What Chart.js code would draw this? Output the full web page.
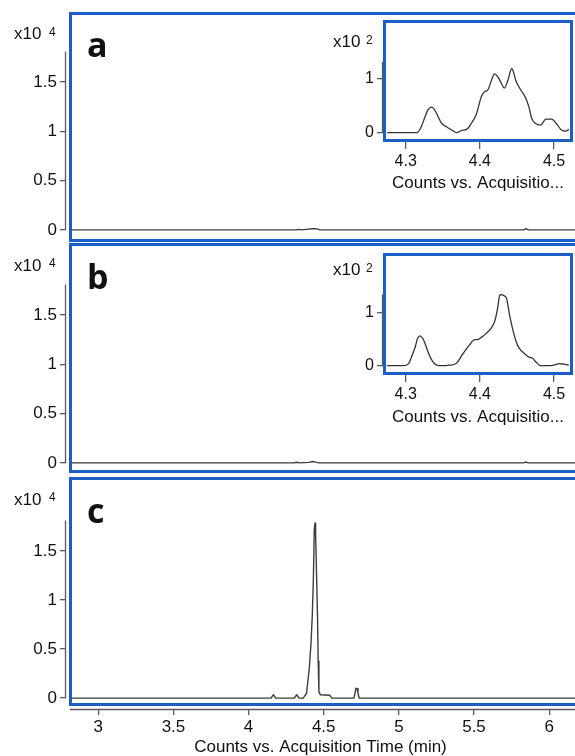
<!DOCTYPE html>
<html>
<head>
<meta charset="utf-8">
<script src="https://cdn.jsdelivr.net/npm/chart.js@4.4.1/dist/chart.umd.min.js"></script>
<style>
  body { margin: 0; background: #fff; }
  #wrap { position: relative; width: 575px; height: 756px; overflow: hidden; background: #fff; }
  canvas, .box { position: absolute; }
  .box { box-sizing: border-box; border: 3px solid #1b5ec6; }
  .inset { background: #fff; }
</style>
</head>
<body>
<div id="wrap">
  <canvas id="mainA" width="575" height="250" style="left:0;top:0"></canvas>
  <canvas id="mainB" width="575" height="250" style="left:0;top:231px"></canvas>
  <canvas id="mainC" width="575" height="286" style="left:0;top:470px"></canvas>
  <div class="box" style="left:69px;top:12px;width:530px;height:230px"></div>
  <div class="box" style="left:69px;top:243px;width:530px;height:230px"></div>
  <div class="box" style="left:69px;top:477px;width:530px;height:229px"></div>
  <div class="box inset" style="left:383px;top:20px;width:190px;height:122px"></div>
  <div class="box inset" style="left:383px;top:253px;width:190px;height:122px"></div>
  <canvas id="insetA" width="275" height="200" style="left:300px;top:0"></canvas>
  <canvas id="insetB" width="275" height="200" style="left:300px;top:230px"></canvas>
</div>
<script>
// tick positions
const mainTicksX = [3, 3.5, 4, 4.5, 5, 5.5, 6];
const mainTicksY = [0, 0.5, 1, 1.5];
const insetTicksX = [4.3, 4.4, 4.5];
const insetTicksY = [0, 1];

// main traces, counts x10^4 vs acquisition time (min)
const timeA = [2.82, 4.32, 4.335, 4.35, 4.40, 4.42, 4.443, 4.46, 4.475, 5.83, 5.846, 5.862, 6.20];
const countA = [0, 0, 0.005, 0, 0.008, 0.011, 0.012, 0.007, 0, 0, 0.011, 0, 0];

const timeB = [2.82, 4.30, 4.319, 4.34, 4.40, 4.428, 4.445, 4.47, 5.83, 5.845, 5.86, 6.20];
const countB = [0, 0, 0.006, 0, 0.005, 0.013, 0.007, 0, 0, 0.008, 0, 0];

const timeC = [2.82, 4.150, 4.158, 4.165, 4.172, 4.180, 4.305, 4.313, 4.320, 4.327, 4.335,
  4.364, 4.386, 4.404, 4.415, 4.424, 4.431, 4.437, 4.442, 4.446, 4.453, 4.459, 4.463, 4.468,
  4.479, 4.54, 4.553, 4.700, 4.708, 4.714, 4.722, 4.728, 4.736, 6.20];
const countC = [0, 0, 0.02, 0.033, 0.02, 0, 0, 0.02, 0.033, 0.02, 0,
  0, 0.05, 0.31, 0.55, 0.85, 1.21, 1.71, 1.79, 1.68, 1.21, 0.81, 0.38, 0.06,
  0.035, 0.03, 0, 0, 0.05, 0.10, 0.10, 0.05, 0, 0];

// insets, counts x10^2
const insetTimeA = [4.275, 4.315, 4.321, 4.326, 4.330, 4.335, 4.339, 4.344, 4.348, 4.355, 4.362,
  4.369, 4.375, 4.382, 4.388, 4.395, 4.402, 4.406, 4.411, 4.415, 4.420, 4.424, 4.429, 4.433,
  4.438, 4.443, 4.449, 4.455, 4.461, 4.466, 4.470, 4.475, 4.482, 4.489, 4.497, 4.503, 4.510,
  4.516, 4.520];
const insetCountA = [0, 0, 0.11, 0.29, 0.42, 0.47, 0.42, 0.29, 0.18, 0.11, 0.05,
  0, 0.04, 0.06, 0.16, 0.33, 0.66, 0.75, 0.79, 0.94, 1.08, 1.03, 0.91, 0.82,
  0.97, 1.18, 0.94, 0.79, 0.66, 0.48, 0.26, 0.17, 0.14, 0.25, 0.25, 0.17, 0.05,
  0.03, 0.06];

const insetTimeB = [4.275, 4.297, 4.304, 4.308, 4.313, 4.316, 4.319, 4.323, 4.326, 4.330, 4.335,
  4.342, 4.350, 4.359, 4.368, 4.377, 4.386, 4.393, 4.397, 4.402, 4.409, 4.415, 4.420, 4.424,
  4.427, 4.433, 4.436, 4.440, 4.444, 4.449, 4.453, 4.460, 4.466, 4.471, 4.475, 4.482, 4.491,
  4.500, 4.507, 4.513, 4.520];
const insetCountB = [0, 0, 0.04, 0.17, 0.36, 0.51, 0.56, 0.51, 0.42, 0.26, 0.11,
  0.01, 0, 0.01, 0.04, 0.22, 0.39, 0.49, 0.49, 0.53, 0.61, 0.70, 0.83, 1.08,
  1.33, 1.31, 1.26, 0.95, 0.70, 0.45, 0.33, 0.23, 0.16, 0.14, 0.08, 0, 0,
  0.01, 0.04, 0.03, 0.01];

const FONT = '"Liberation Sans", Arial, sans-serif';
Chart.defaults.font.family = FONT;
Chart.defaults.color = '#111';

function toPoints(xs, ys) {
  return xs.map((x, i) => ({ x: x, y: ys[i] }));
}

// short y axis line (0 .. axisTop), optional x axis line, and the loose texts (page pixels)
function makeDecor(o) {
  return {
    id: 'decor',
    afterDraw(chart) {
      const ctx = chart.ctx;
      const ys = chart.scales.y;
      const xs = chart.scales.x;
      ctx.save();
      ctx.strokeStyle = '#5a5a5a';
      ctx.lineWidth = 1.3;
      ctx.beginPath();
      ctx.moveTo(ys.right - 0.5, ys.getPixelForValue(0));
      ctx.lineTo(ys.right - 0.5, ys.getPixelForValue(o.axisTop));
      if (o.xLineFrom) {
        ctx.moveTo(o.xLineFrom - o.left, xs.top + 0.5);
        ctx.lineTo(xs.right, xs.top + 0.5);
      }
      ctx.stroke();
      ctx.fillStyle = '#111';
      ctx.textBaseline = 'alphabetic';
      o.texts.forEach(t => {
        ctx.font = t.font;
        ctx.fillText(t.text, t.x - o.left, t.y - o.top);
      });
      ctx.restore();
    }
  };
}

function makeChart(id, o) {
  const tickFont = { size: o.tickSize, family: FONT };
  return new Chart(document.getElementById(id), {
    type: 'line',
    data: {
      datasets: [{
        data: toPoints(o.xs, o.ys),
        borderColor: o.color,
        borderWidth: o.lw,
        pointRadius: 0,
        tension: 0,
        cubicInterpolationMode: o.smooth ? 'monotone' : 'default'
      }]
    },
    options: {
      responsive: false,
      animation: false,
      events: [],
      layout: { padding: { top: o.padTop, bottom: o.padBottom, left: 0, right: o.padRight } },
      plugins: { legend: { display: false }, tooltip: { enabled: false } },
      scales: {
        x: {
          type: 'linear',
          display: o.showX,
          min: o.xMin, max: o.xMax,
          afterBuildTicks: s => { s.ticks = o.ticksX.map(v => ({ value: v })); },
          afterFit: s => { s.height = o.xHeight; },
          ticks: { font: tickFont, padding: o.xPad, maxRotation: 0, autoSkip: false, callback: v => String(v) },
          grid: { drawOnChartArea: false, drawTicks: true, tickLength: o.xTick, color: '#5a5a5a', lineWidth: 1.3 },
          border: { display: false },
          title: {
            display: o.showX, text: o.title,
            font: { size: 17, family: FONT, lineHeight: 1 },
            padding: { top: 0, bottom: o.titlePad }
          }
        },
        y: {
          type: 'linear',
          min: o.yMin, max: o.yMax,
          afterBuildTicks: s => { s.ticks = o.ticksY.map(v => ({ value: v })); },
          afterFit: s => { s.width = o.yWidth; },
          ticks: { font: tickFont, padding: o.yPad, callback: v => String(v) },
          grid: { drawOnChartArea: false, drawTicks: true, tickLength: 6, color: '#5a5a5a', lineWidth: 1.3 },
          border: { display: false }
        }
      }
    },
    plugins: [makeDecor(o)]
  });
}

const mainCommon = {
  xMin: 2.785, xMax: 6.172, ticksX: mainTicksX, ticksY: mainTicksY,
  yWidth: 66, yPad: 3, tickSize: 17, padRight: 0, color: '#3c3c3c', lw: 1.4,
  smooth: false, axisTop: 1.81, left: 0, xTick: 6, xPad: 2, titlePad: 0,
  title: 'Counts vs. Acquisition Time (min)'
};
const labelFont = 'bold 34px "Open Sans", sans-serif';
const expFont = '17px ' + FONT;
const supFont = '12px ' + FONT;

makeChart('mainA', Object.assign({}, mainCommon, {
  xs: timeA, ys: countA, showX: false, xHeight: 0,
  top: 0, padTop: 15, padBottom: 11, yMin: -0.0704, yMax: 2.181,
  texts: [
    { text: 'x10', x: 14, y: 39, font: expFont },
    { text: '4', x: 49, y: 36, font: supFont },
    { text: 'a', x: 87, y: 57, font: labelFont }
  ]
}));

makeChart('mainB', Object.assign({}, mainCommon, {
  xs: timeB, ys: countB, showX: false, xHeight: 0,
  top: 231, padTop: 15, padBottom: 11, yMin: -0.0503, yMax: 2.201,
  texts: [
    { text: 'x10', x: 14, y: 271, font: expFont },
    { text: '4', x: 49, y: 267, font: supFont },
    { text: 'b', x: 87, y: 289, font: labelFont }
  ]
}));

makeChart('mainC', Object.assign({}, mainCommon, {
  xs: timeC, ys: countC, showX: true, xHeight: 47, xLineFrom: 70,
  top: 470, padTop: 10, padBottom: 0, yMin: -0.1106, yMax: 2.191,
  texts: [
    { text: 'x10', x: 14, y: 505, font: expFont },
    { text: '4', x: 49, y: 501, font: supFont },
    { text: 'c', x: 87, y: 523, font: labelFont }
  ]
}));

const insetCommon = {
  xMin: 4.2694, xMax: 4.5256, ticksX: insetTicksX, ticksY: insetTicksY,
  yWidth: 83, yPad: 3, tickSize: 16, padRight: 2, color: '#333', lw: 1.3,
  smooth: true, left: 300, xTick: 7, xPad: 3, showX: true,
  title: 'Counts vs. Acquisitio...', padBottom: 0
};

makeChart('insetA', Object.assign({}, insetCommon, {
  xs: insetTimeA, ys: insetCountA, top: 0, padTop: 23, xHeight: 58, titlePad: 8,
  yMin: -0.171, yMax: 2.017, axisTop: 1.305,
  texts: [
    { text: 'x10', x: 333, y: 47, font: expFont },
    { text: '2', x: 366, y: 43.5, font: supFont }
  ]
}));

makeChart('insetB', Object.assign({}, insetCommon, {
  xs: insetTimeB, ys: insetCountB, top: 230, padTop: 25, xHeight: 55, titlePad: 4,
  yMin: -0.174, yMax: 2.073, axisTop: 1.337,
  texts: [
    { text: 'x10', x: 333, y: 275, font: expFont },
    { text: '2', x: 366, y: 271.5, font: supFont }
  ]
}));
</script>
</body>
</html>
